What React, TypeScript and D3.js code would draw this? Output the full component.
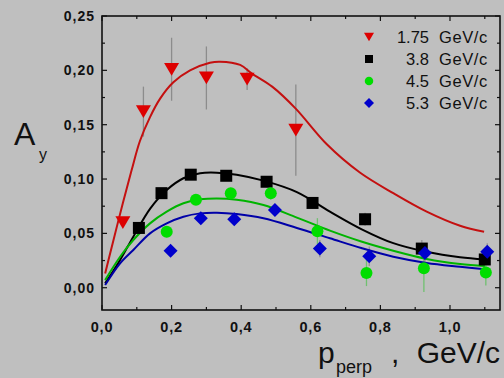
import React from "react";
import * as d3 from "d3";

// ---- data ----
const redX = [0.06, 0.119, 0.2, 0.3, 0.417, 0.557];
const redY = [0.06, 0.162, 0.201, 0.193, 0.192, 0.145];
const redErr = [0.004, 0.023, 0.029, 0.029, 0.01, 0.042];

const blackX = [0.106, 0.171, 0.255, 0.357, 0.473, 0.605, 0.756, 0.919, 1.1];
const blackY = [0.055, 0.087, 0.104, 0.103, 0.0975, 0.078, 0.063, 0.036, 0.026];
const blackErr = [0.004, 0.004, 0.004, 0.004, 0.005, 0.005, 0.006, 0.008, 0.008];

const greenX = [0.186, 0.27, 0.37, 0.485, 0.619, 0.76, 0.925, 1.103];
const greenY = [0.0515, 0.081, 0.087, 0.087, 0.052, 0.0135, 0.018, 0.014];
const greenErr = [0.005, 0.005, 0.005, 0.006, 0.012, 0.012, 0.022, 0.012];

const blueX = [0.197, 0.284, 0.38, 0.497, 0.626, 0.768, 0.928, 1.107];
const blueY = [0.034, 0.064, 0.063, 0.0715, 0.036, 0.029, 0.032, 0.033];
const blueErr = [0.005, 0.005, 0.005, 0.005, 0.008, 0.009, 0.008, 0.008];

const redCurveX = [0.009, 0.03, 0.06, 0.085, 0.109, 0.138, 0.167, 0.205, 0.253, 0.31, 0.339, 0.397, 0.431, 0.489, 0.556, 0.646, 0.741, 0.837, 0.933, 1.029, 1.098];
const redCurveY = [0.013, 0.04, 0.078, 0.108, 0.135, 0.157, 0.174, 0.189, 0.2, 0.207, 0.208, 0.205, 0.197, 0.185, 0.165, 0.132, 0.106, 0.087, 0.07, 0.057, 0.0515];

const blackCurveX = [0.009, 0.052, 0.09, 0.139, 0.186, 0.234, 0.282, 0.33, 0.387, 0.464, 0.56, 0.655, 0.745, 0.837, 0.933, 1.029, 1.1];
const blackCurveY = [0.004, 0.0255, 0.047, 0.073, 0.0899, 0.1007, 0.1053, 0.1058, 0.104, 0.0985, 0.088, 0.07, 0.054, 0.041, 0.033, 0.028, 0.026];

const greenCurveX = [0.009, 0.052, 0.09, 0.138, 0.186, 0.234, 0.282, 0.33, 0.387, 0.464, 0.56, 0.655, 0.745, 0.837, 0.933, 1.029, 1.1];
const greenCurveY = [0.007, 0.0285, 0.0439, 0.0592, 0.07, 0.0777, 0.0813, 0.0822, 0.081, 0.0761, 0.0645, 0.0525, 0.0425, 0.034, 0.0265, 0.0218, 0.02];

const blueCurveX = [0.009, 0.052, 0.09, 0.138, 0.186, 0.234, 0.282, 0.33, 0.387, 0.464, 0.56, 0.655, 0.745, 0.837, 0.933, 1.029, 1.1];
const blueCurveY = [0.0025, 0.0224, 0.0347, 0.05, 0.0592, 0.0653, 0.0684, 0.069, 0.0678, 0.0639, 0.055, 0.0455, 0.0365, 0.0285, 0.0228, 0.0193, 0.017];

const xTicks = [0, 0.2, 0.4, 0.6, 0.8, 1.0];
const xTickLabels = ["0,0", "0,2", "0,4", "0,6", "0,8", "1,0"];
const xMinor = [0.1, 0.3, 0.5, 0.7, 0.9, 1.1];
const yTicks = [0, 0.05, 0.1, 0.15, 0.2, 0.25];
const yTickLabels = ["0,00", "0,05", "0,10", "0,15", "0,20", "0,25"];
const yMinor = [0.025, 0.075, 0.125, 0.175, 0.225];

const legendNums = ["1.75", "3.8", "4.5", "5.3"];
const legendUnit = "GeV/c";

const W = 504;
const H = 378;
const L = 102, R = 500, T = 16, B = 310;
const FONT = "'Liberation Sans', Arial, sans-serif";

const x = d3.scaleLinear().domain([0, 1.1437]).range([L, R]);
const y = d3.scaleLinear().domain([-0.0205, 0.25]).range([B, T]);

function curvePath(xs: number[], ys: number[]) {
  const line = d3
    .line<number>()
    .x((_, i) => x(xs[i]))
    .y((_, i) => y(ys[i]))
    .curve(d3.curveCatmullRom.alpha(0.5));
  return line(xs.map((_, i) => i)) || "";
}

type Shape = "tri" | "sq" | "circ" | "dia";

function Marker({ shape, cx, cy, s, fill }: { shape: Shape; cx: number; cy: number; s: number; fill: string }) {
  if (shape === "tri") {
    const w = s, h = s * 0.85;
    return <path d={`M${cx - w / 2},${cy - h / 2}L${cx + w / 2},${cy - h / 2}L${cx},${cy + h / 2}Z`} fill={fill} />;
  }
  if (shape === "sq") return <rect x={cx - s / 2} y={cy - s / 2} width={s} height={s} fill={fill} />;
  if (shape === "circ") return <circle cx={cx} cy={cy} r={s / 2} fill={fill} />;
  const r = s / 2;
  return <path d={`M${cx},${cy - r}L${cx + r},${cy}L${cx},${cy + r}L${cx - r},${cy}Z`} fill={fill} />;
}

const series = [
  { xs: redX, ys: redY, err: redErr, cx: redCurveX, cy: redCurveY, shape: "tri" as Shape, fill: "#dd0000", line: "#c41010", errColor: "#8c8c8c", size: 15, lsize: 10 },
  { xs: blackX, ys: blackY, err: blackErr, cx: blackCurveX, cy: blackCurveY, shape: "sq" as Shape, fill: "#000000", line: "#000000", errColor: "#909090", size: 12, lsize: 8 },
  { xs: greenX, ys: greenY, err: greenErr, cx: greenCurveX, cy: greenCurveY, shape: "circ" as Shape, fill: "#00dd00", line: "#00b400", errColor: "#70c070", size: 12, lsize: 8.5 },
  { xs: blueX, ys: blueY, err: blueErr, cx: blueCurveX, cy: blueCurveY, shape: "dia" as Shape, fill: "#0000cc", line: "#0000a8", errColor: "#909090", size: 14, lsize: 10 },
];

export default function App() {
  const legendY = [37, 59, 81, 103];
  return (
    <svg width={W} height={H} style={{ position: "absolute", left: 0, top: 0 }} fontFamily={FONT}>
      <rect x={0} y={0} width={W} height={H} fill="#bfbfbf" />
      {/* error bars */}
      {series.map((s, si) =>
        s.xs.map((xv, i) => (
          <line key={`e${si}-${i}`} x1={x(xv)} x2={x(xv)} y1={y(s.ys[i] - s.err[i])} y2={y(s.ys[i] + s.err[i])} stroke={s.errColor} strokeWidth={1.3} />
        ))
      )}
      {/* curves */}
      {series.map((s, si) => (
        <path key={`c${si}`} d={curvePath(s.cx, s.cy)} fill="none" stroke={s.line} strokeWidth={2} />
      ))}
      {/* markers */}
      {series.map((s, si) =>
        s.xs.map((xv, i) => <Marker key={`m${si}-${i}`} shape={s.shape} cx={x(xv)} cy={y(s.ys[i])} s={s.size} fill={s.fill} />)
      )}
      {/* frame */}
      <rect x={L} y={T} width={R - L} height={B - T} fill="none" stroke="#111" strokeWidth={1.6} />
      {xTicks.map((v) => (
        <g key={`xt${v}`}>
          <line x1={x(v)} x2={x(v)} y1={B} y2={B - 5} stroke="#111" strokeWidth={1.2} />
          <line x1={x(v)} x2={x(v)} y1={T} y2={T + 5} stroke="#111" strokeWidth={1.2} />
        </g>
      ))}
      {xMinor.map((v) => (
        <g key={`xm${v}`}>
          <line x1={x(v)} x2={x(v)} y1={B} y2={B - 3} stroke="#111" strokeWidth={1.2} />
          <line x1={x(v)} x2={x(v)} y1={T} y2={T + 3} stroke="#111" strokeWidth={1.2} />
        </g>
      ))}
      {yTicks.map((v) => (
        <g key={`yt${v}`}>
          <line x1={L} x2={L + 5} y1={y(v)} y2={y(v)} stroke="#111" strokeWidth={1.2} />
          <line x1={R} x2={R - 5} y1={y(v)} y2={y(v)} stroke="#111" strokeWidth={1.2} />
        </g>
      ))}
      {yMinor.map((v) => (
        <g key={`ym${v}`}>
          <line x1={L} x2={L + 3} y1={y(v)} y2={y(v)} stroke="#111" strokeWidth={1.2} />
          <line x1={R} x2={R - 3} y1={y(v)} y2={y(v)} stroke="#111" strokeWidth={1.2} />
        </g>
      ))}
      {/* tick labels */}
      {yTicks.map((v, i) => (
        <text key={`yl${v}`} x={95} y={y(v) + 5} textAnchor="end" fontSize={14} fontWeight="bold" letterSpacing={1} fill="#111">
          {yTickLabels[i]}
        </text>
      ))}
      {xTicks.map((v, i) => (
        <text key={`xl${v}`} x={x(v)} y={332} textAnchor="middle" fontSize={14.5} fontWeight="bold" letterSpacing={0.8} fill="#111">
          {xTickLabels[i]}
        </text>
      ))}
      {/* axis titles */}
      <text x={14} y={145} fontSize={32} fill="#111">A</text>
      <text x={39} y={160} fontSize={16} fill="#111">y</text>
      <text x={318} y={363} fontSize={30} fill="#111">p</text>
      <text x={336} y={373} fontSize={18} fill="#111">perp</text>
      <text x={391} y={363} fontSize={30} fill="#111">,</text>
      <text x={500} y={363} fontSize={30} textAnchor="end" fill="#111">GeV/c</text>
      {/* legend */}
      {series.map((s, i) => (
        <g key={`lg${i}`}>
          <Marker shape={s.shape} cx={369} cy={legendY[i]} s={s.lsize} fill={s.fill} />
          <text x={429} y={legendY[i] + 6} textAnchor="end" fontSize={16.5} fill="#111">{legendNums[i]}</text>
          <text x={439} y={legendY[i] + 6} fontSize={16.5} letterSpacing={0.6} fill="#111">{legendUnit}</text>
        </g>
      ))}
    </svg>
  );
}
